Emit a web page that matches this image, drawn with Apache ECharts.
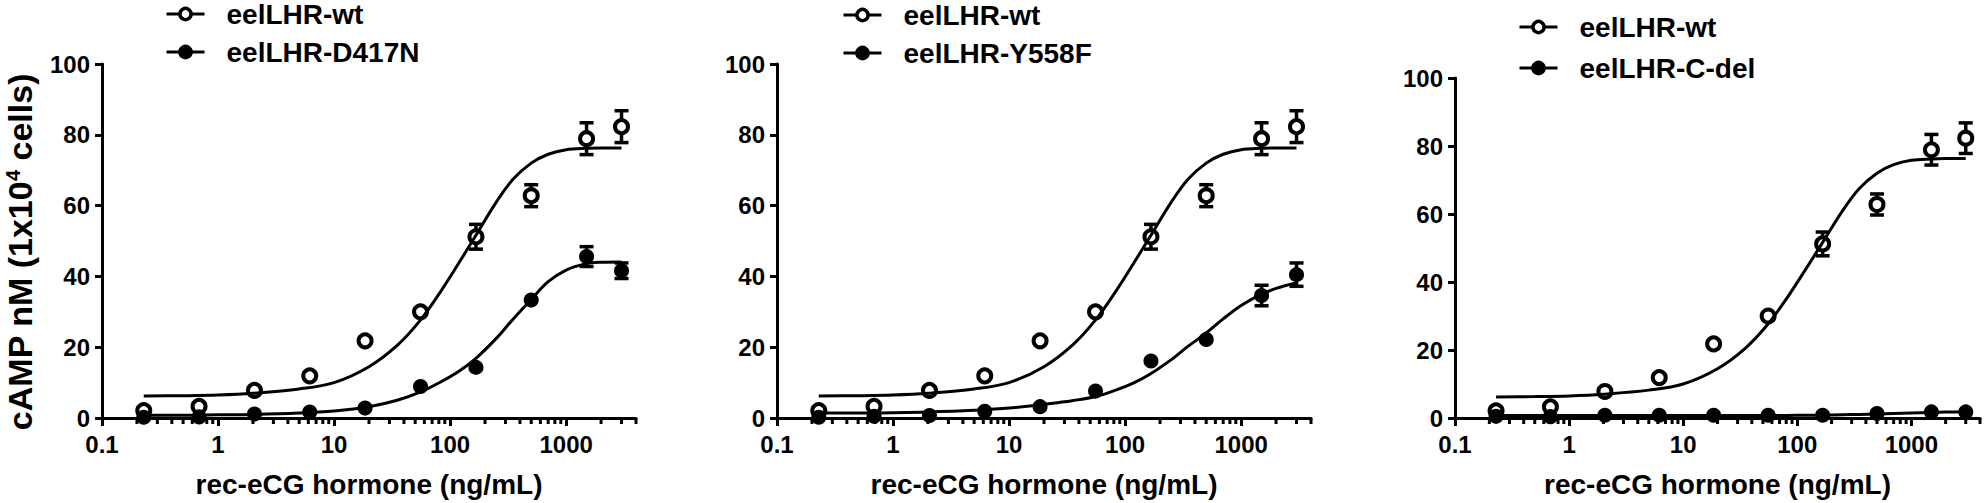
<!DOCTYPE html>
<html><head><meta charset="utf-8">
<script src="https://cdn.jsdelivr.net/npm/echarts@6/dist/echarts.min.js"></script>
<style>html,body{margin:0;padding:0;background:#fff}#c{width:1988px;height:503px}</style>
</head><body><div id="c"></div>
<script>
// ---- data ----
const doses = [0.229, 0.686, 2.06, 6.17, 18.5, 55.6, 167, 500, 1500, 3000];
const wtValues    = [2.1, 3.3, 7.8, 11.9, 21.8, 30.0, 51.2, 62.8, 78.9, 82.3];
const wtErrors    = [0, 0, 0, 0, 0, 0, 3.5, 3.1, 4.5, 4.5];
const d417nValues = [0.2, 0.3, 1.1, 1.7, 2.8, 8.9, 14.3, 33.3, 45.6, 41.6];
const d417nErrors = [0, 0, 0, 0, 0, 0, 0, 0, 2.8, 2.2];
const y558fValues = [0.2, 0.5, 0.7, 1.9, 3.2, 7.6, 16.1, 22.2, 34.6, 40.5];
const y558fErrors = [0, 0, 0, 0, 0, 0, 0, 0, 2.9, 3.3];
const cdelValues  = [0.5, 0.4, 0.8, 0.8, 0.8, 0.8, 0.8, 1.3, 1.8, 1.8];
const cdelErrors  = [0, 0, 0, 0, 0, 0, 0, 0, 0, 0];

const curveDoses = [0.229, 0.5, 1, 2, 5, 10, 20, 35, 55, 82, 120, 166, 250, 350, 500, 700, 1000, 1500, 2000, 3000];
const wtCurve    = [6.2, 6.3, 6.5, 7.0, 8.2, 10.0, 14.5, 20.5, 27.5, 35.5, 44.0, 51.5, 61.0, 67.5, 72.0, 74.5, 75.8, 76.2, 76.3, 76.3];
const d417nCurve = [0.8, 0.8, 0.9, 1.0, 1.4, 2.0, 3.2, 5.0, 7.3, 10.1, 13.3, 16.8, 22.5, 28.0, 33.5, 38.5, 41.8, 43.6, 44.0, 44.1];
const y558fCurve = [1.4, 1.4, 1.5, 1.7, 2.2, 2.8, 3.9, 4.9, 6.0, 7.8, 10.0, 12.5, 16.5, 20.3, 24.0, 28.0, 31.8, 35.0, 36.6, 38.2];
const cdelCurve  = [0.7, 0.7, 0.7, 0.7, 0.7, 0.7, 0.7, 0.7, 0.7, 0.75, 0.8, 0.85, 0.95, 1.05, 1.2, 1.35, 1.5, 1.65, 1.75, 1.85];

const xMajorTicks = [0.1, 1, 10, 100, 1000];
const xMinorTicks = [0.2, 0.3, 0.4, 0.5, 0.6, 0.7, 0.8, 0.9,
                     2, 3, 4, 5, 6, 7, 8, 9,
                     20, 30, 40, 50, 60, 70, 80, 90,
                     200, 300, 400, 500, 600, 700, 800, 900,
                     2000, 3000, 4000];
const wtName = 'eelLHR-wt';
const mutantNames = ['eelLHR-D417N', 'eelLHR-Y558F', 'eelLHR-C-del'];
const xTitle = 'rec-eCG hormone (ng/mL)';
const yTitle = 'cAMP nM (1x10{sup|4} cells)';

// ---- layout ----
const FONT = '"Liberation Sans", Arial, Helvetica, sans-serif';
const grids = [
  {left: 102, top: 64, width: 534, height: 355},
  {left: 777, top: 64, width: 534, height: 355},
  {left: 1455, top: 78, width: 525, height: 341}
];
const legendPos = [
  {left: 165, top: 0, itemGap: 10},
  {left: 842, top: 1, itemGap: 10},
  {left: 1518, top: 13, itemGap: 13}
];
const panels = [
  {mut: mutantNames[0], values: d417nValues, errors: d417nErrors, curve: d417nCurve},
  {mut: mutantNames[1], values: y558fValues, errors: y558fErrors, curve: y558fCurve},
  {mut: mutantNames[2], values: cdelValues, errors: cdelErrors, curve: cdelCurve}
];

const pairs = (xs, ys) => xs.map((x, k) => [x, ys[k]]);
const errData = (vals, errs) => doses.map((d, k) => [d, vals[k] - errs[k], vals[k] + errs[k]]).filter((r, k) => errs[k] > 0);

function errorBarRender(params, api) {
  const x = api.value(0);
  const lo = api.coord([x, api.value(1)]);
  const hi = api.coord([x, api.value(2)]);
  const cap = 7;
  const st = {stroke: '#000', lineWidth: 3.5};
  return {type: 'group', children: [
    {type: 'line', shape: {x1: lo[0], y1: lo[1], x2: hi[0], y2: hi[1]}, style: st},
    {type: 'line', shape: {x1: lo[0] - cap, y1: lo[1], x2: lo[0] + cap, y2: lo[1]}, style: st},
    {type: 'line', shape: {x1: hi[0] - cap, y1: hi[1], x2: hi[0] + cap, y2: hi[1]}, style: st}
  ]};
}
function minorTickRender(params, api) {
  const p = api.coord([api.value(0), 0]);
  return {type: 'line', shape: {x1: p[0], y1: p[1], x2: p[0], y2: p[1] + 6},
          style: {stroke: '#000', lineWidth: 3}};
}

const xAxes = [], yAxes = [], series = [], legends = [];
const labelStyle = {color: '#000', fontFamily: FONT, fontWeight: 'bold', fontSize: 24};
const openStyle = {color: '#fff', borderColor: '#000', borderWidth: 4, opacity: 1};
const filledStyle = {color: '#000', borderColor: '#000', borderWidth: 2, opacity: 1};

panels.forEach((p, i) => {
  xAxes.push({
    type: 'log', logBase: 10, gridIndex: i, min: 0.1, max: 4000, position: 'bottom',
    axisLine: {show: true, onZero: false, lineStyle: {color: '#000', width: 3}},
    axisTick: {show: true, length: 8, lineStyle: {color: '#000', width: 3}, customValues: xMajorTicks},
    axisLabel: Object.assign({customValues: xMajorTicks, margin: 14,
      formatter: v => String(+(+v).toPrecision(6))}, labelStyle),
    splitLine: {show: false}, minorTick: {show: false},
    name: xTitle, nameLocation: 'middle', nameGap: 52,
    nameTextStyle: {color: '#000', fontFamily: FONT, fontWeight: 'bold', fontSize: 28}
  });
  yAxes.push({
    type: 'value', gridIndex: i, min: 0, max: 100, interval: 20,
    axisLine: {show: true, onZero: false, lineStyle: {color: '#000', width: 3}},
    axisTick: {show: true, length: 7, lineStyle: {color: '#000', width: 3}},
    axisLabel: Object.assign({margin: 12}, labelStyle),
    splitLine: {show: false}
  });
  legends.push({
    orient: 'vertical', left: legendPos[i].left, top: legendPos[i].top, padding: 0,
    itemGap: legendPos[i].itemGap, itemWidth: 38, itemHeight: 14,
    itemStyle: {borderWidth: 3.5, borderColor: '#000'},
    lineStyle: {width: 3, color: '#000'},
    selectedMode: false, data: [wtName, p.mut],
    formatter: name => '{g|\u00a0}{t|' + name + '}',
    textStyle: {color: '#000', fontFamily: FONT, fontWeight: 'bold', fontSize: 28,
      rich: {
        g: {width: 17, fontSize: 28},
        t: {color: '#000', fontFamily: FONT, fontWeight: 'bold', fontSize: 28}
      }}
  });
});

panels.forEach((p, i) => {
  const common = {xAxisIndex: i, yAxisIndex: i, silent: true, animation: false};
  series.push(Object.assign({
    type: 'line', name: wtName, data: pairs(curveDoses, wtCurve), smooth: 0.35,
    showSymbol: false, symbol: 'circle', symbolSize: 12, itemStyle: openStyle,
    lineStyle: {color: '#000', width: 3}, z: 5
  }, common));
  series.push(Object.assign({
    type: 'line', name: p.mut, data: pairs(curveDoses, p.curve), smooth: 0.35,
    showSymbol: false, symbol: 'circle', symbolSize: 12, itemStyle: filledStyle,
    lineStyle: {color: '#000', width: 3}, z: 5
  }, common));
  series.push(Object.assign({
    type: 'custom', name: 'minor-ticks-' + i, data: xMinorTicks.map(v => [v, 0]),
    renderItem: minorTickRender, clip: false, z: 1
  }, common));
  series.push(Object.assign({
    type: 'custom', name: 'err-wt-' + i, data: errData(wtValues, wtErrors),
    renderItem: errorBarRender, clip: false, z: 2
  }, common));
  series.push(Object.assign({
    type: 'custom', name: 'err-mut-' + i, data: errData(p.values, p.errors),
    renderItem: errorBarRender, clip: false, z: 2
  }, common));
  series.push(Object.assign({
    type: 'scatter', name: wtName, data: pairs(doses, wtValues),
    symbol: 'circle', symbolSize: 13, itemStyle: openStyle, z: 3
  }, common));
  series.push(Object.assign({
    type: 'scatter', name: p.mut, data: pairs(doses, p.values),
    symbol: 'circle', symbolSize: 13, itemStyle: filledStyle, z: 3
  }, common));
});

const chart = echarts.init(document.getElementById('c'), null, {renderer: 'svg'});
chart.setOption({
  animation: false,
  backgroundColor: '#fff',
  grid: grids,
  xAxis: xAxes,
  yAxis: yAxes,
  legend: legends,
  series: series,
  graphic: [{
    type: 'text', x: 20, y: 252, rotation: Math.PI / 2, silent: true,
    style: {
      text: yTitle, align: 'center', verticalAlign: 'middle',
      fill: '#000', font: 'bold 34px ' + FONT,
      rich: {sup: {fontSize: 20, fontWeight: 'bold', fontFamily: FONT, fill: '#000', verticalAlign: 'top', padding: [0, 0, 11, 0]}}
    }
  }]
});
</script></body></html>
